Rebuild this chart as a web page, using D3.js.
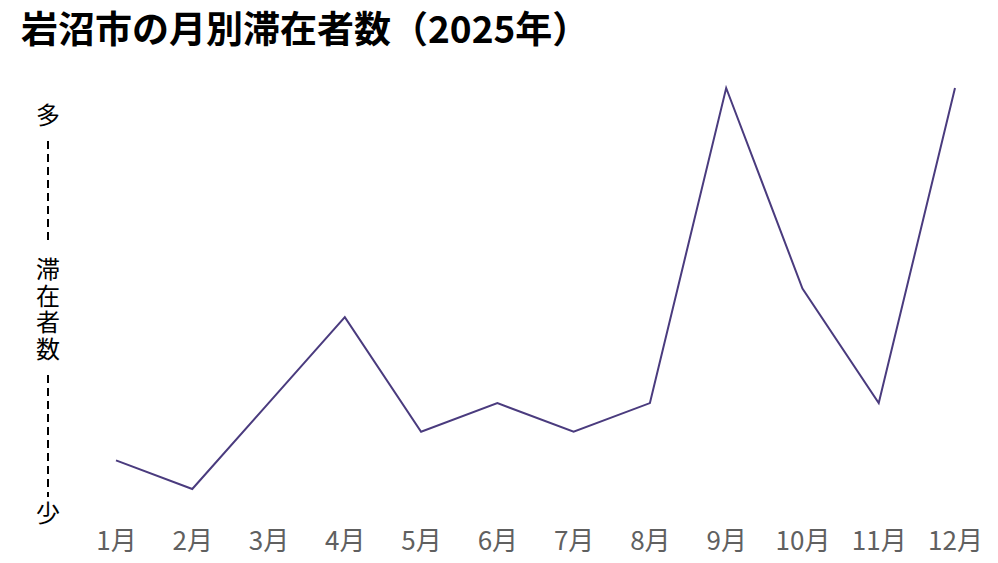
<!DOCTYPE html>
<html><head><meta charset="utf-8">
<script src="https://cdn.jsdelivr.net/npm/d3@7"></script>
<style>
body{margin:0;background:#fff;}
svg{display:block;font-family:"Noto Sans CJK JP","Noto Sans",sans-serif;}
</style></head>
<body><div id="chart"></div>
<script>
const title = "岩沼市の月別滞在者数（2025年）";
const months = ["1月","2月","3月","4月","5月","6月","7月","8月","9月","10月","11月","12月"];
const values = [1, 0, 3, 6, 2, 3, 2, 3, 14, 7, 3, 14];
const yLabelTop = "多";
const yLabelBottom = "少";
const yLabelMid = "滞在者数";

const W = 998, H = 563;
const svg = d3.select("#chart").append("svg").attr("width", W).attr("height", H);

svg.append("text").attr("x", 21).attr("y", 43)
  .attr("font-size", 37).attr("font-weight", "bold").attr("fill", "#000")
  .text(title);

const x = d3.scalePoint().domain(months).range([116, 955]);
const y = d3.scaleLinear().domain([0, 14]).range([489, 88]);

const xAxis = svg.append("g").attr("transform", "translate(0,541)")
  .call(d3.axisBottom(x).tickSize(0).tickPadding(0));
xAxis.select(".domain").remove();
xAxis.selectAll("text").attr("font-size", 26).attr("fill", "#606060")
  .attr("font-family", "'Noto Sans CJK JP',sans-serif").attr("dy", "0.35em");

const line = d3.line().x((d, i) => x(months[i])).y(d => y(d));
svg.append("path").datum(values).attr("d", line)
  .attr("fill", "none").attr("stroke", "#4a3b7e").attr("stroke-width", 2)
  .attr("stroke-linejoin", "miter");

// vertical y label
const lx = 48;
const g = svg.append("g").attr("font-size", 24).attr("fill", "#000").attr("text-anchor", "middle");
g.append("text").attr("x", lx).attr("y", 116).attr("dy", "0.35em").text(yLabelTop);
g.append("text").attr("x", lx).attr("y", 514).attr("dy", "0.35em").text(yLabelBottom);
g.append("text").attr("x", lx).attr("y", 257)
  .attr("text-anchor", "start")
  .style("writing-mode", "vertical-rl")
  .style("glyph-orientation-vertical", "0")
  .attr("letter-spacing", 2.5)
  .text(yLabelMid);
svg.append("line").attr("x1", lx).attr("x2", lx).attr("y1", 141).attr("y2", 245)
  .attr("stroke", "#000").attr("stroke-width", 2).attr("stroke-dasharray", "8,5");
svg.append("line").attr("x1", lx).attr("x2", lx).attr("y1", 375).attr("y2", 497)
  .attr("stroke", "#000").attr("stroke-width", 2).attr("stroke-dasharray", "8,5");
</script></body></html>
